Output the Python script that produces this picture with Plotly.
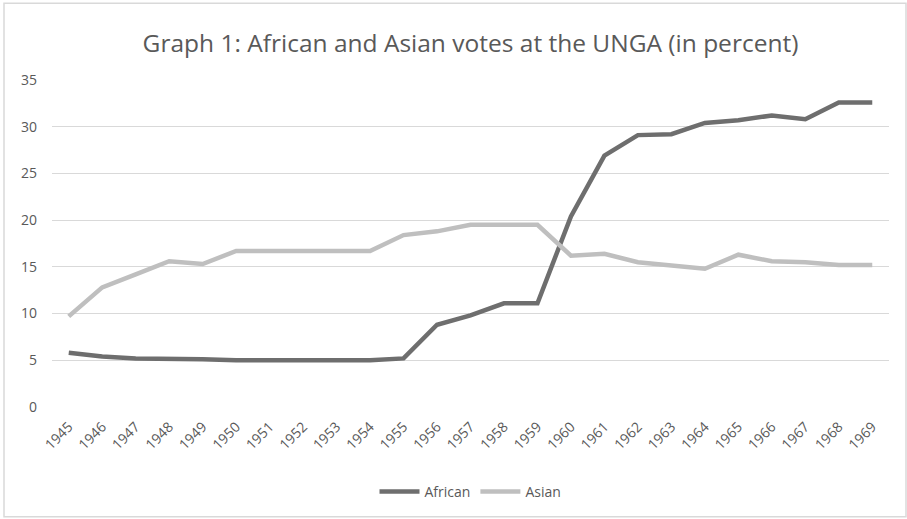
import plotly.graph_objects as go

years = [str(y) for y in range(1945, 1970)]
african = [5.8, 5.4, 5.2, 5.2, 5.1, 5.0, 5.0, 5.0, 5.0, 5.0, 5.2, 8.8, 9.8, 11.1, 11.1,
           20.4, 26.9, 29.1, 29.2, 30.4, 30.7, 31.2, 30.8, 32.6, 32.6]
asian = [9.7, 12.8, 14.2, 15.6, 15.3, 16.7, 16.7, 16.7, 16.7, 16.7, 18.4, 18.8, 19.5, 19.5, 19.5,
         16.2, 16.4, 15.5, 15.1, 14.8, 16.3, 15.6, 15.5, 15.2, 15.2]

W, H = 907, 519
ml, mr, mt, mb = 52, 18, 80, 111
pw, ph = W - ml - mr, H - mt - mb

fig = go.Figure()
fig.add_trace(go.Scatter(x=years, y=african, name="African", mode="lines",
                         line=dict(color="#6e6e6e", width=4.5)))
fig.add_trace(go.Scatter(x=years, y=asian, name="Asian", mode="lines",
                         line=dict(color="#bfbfbf", width=4.5)))

def px_x(p):
    return (p - ml) / pw

def px_y(p):
    return (H - mb - p) / ph

fig.add_shape(type="rect", xref="paper", yref="paper",
              x0=px_x(4), x1=px_x(906), y0=px_y(518), y1=px_y(3),
              line=dict(color="#d9d9d9", width=1.5), fillcolor="rgba(0,0,0,0)", layer="below")

fig.update_layout(
    width=W, height=H,
    margin=dict(l=ml, r=mr, t=mt, b=mb),
    paper_bgcolor="white", plot_bgcolor="white",
    font=dict(family="Open Sans", color="#595959", size=13),
    title=dict(text="Graph 1: African and Asian votes at the UNGA (in percent)",
               x=0.5, xref="paper", xanchor="center", y=1 - 43 / H, yanchor="middle",
               font=dict(size=24.5, color="#595959")),
    xaxis=dict(type="category", range=[-0.5, 24.5], showgrid=False, showline=False,
               zeroline=False, ticks="", tickangle=-45, ticklabelstandoff=8,
               tickfont=dict(size=14, color="#595959")),
    yaxis=dict(range=[0, 35], dtick=5, tick0=0, showgrid=True, gridcolor="#d9d9d9",
               gridwidth=1, zeroline=False, showline=False, ticks="", ticklabelstandoff=14,
               tickfont=dict(size=14, color="#595959")),
    legend=dict(orientation="h", x=0.5, xanchor="center", y=px_y(492), yanchor="middle",
                font=dict(size=14, color="#595959"), itemwidth=40),
    showlegend=True,
)

fig.write_html("out.html")
